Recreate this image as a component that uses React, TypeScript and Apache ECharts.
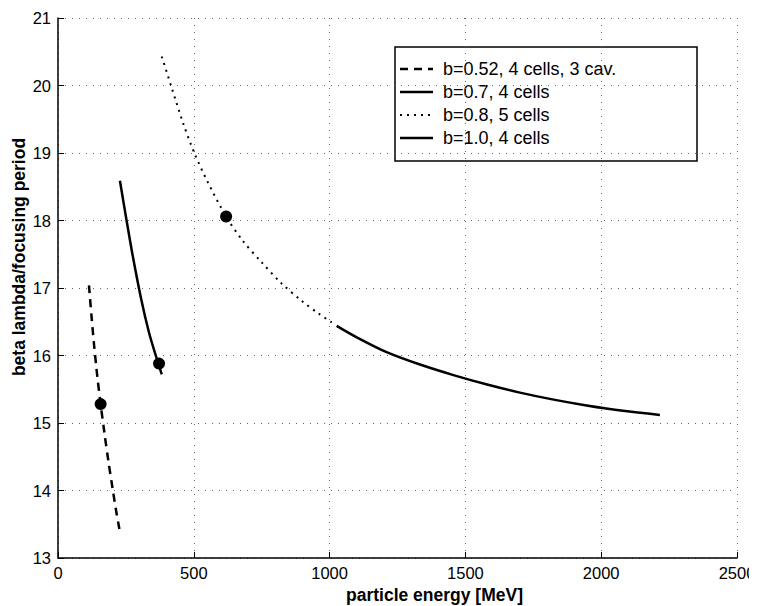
import React, { useEffect, useRef } from "react";
import * as echarts from "echarts";

const seriesNames = ["b=0.52, 4 cells, 3 cav.", "b=0.7, 4 cells", "b=0.8, 5 cells", "b=1.0, 4 cells"];
const xTitle = "particle energy [MeV]";
const yTitle = "beta lambda/focusing period";

const curveB052: [number, number][] = [
  [114, 17.04], [123, 16.6], [133, 16.15], [145, 15.68], [157, 15.28], [171, 14.85],
  [186, 14.42], [201, 14.03], [214, 13.7], [226, 13.43],
];
const curveB07: [number, number][] = [
  [228, 18.59], [250, 18.06], [275, 17.48], [305, 16.86], [335, 16.34], [360, 16.0], [382, 15.72],
];
const curveB08: [number, number][] = [
  [382, 20.43], [420, 19.95], [460, 19.45], [500, 19.02], [550, 18.58], [619, 18.06],
  [680, 17.7], [750, 17.38], [820, 17.08], [900, 16.8], [960, 16.62], [1008, 16.49],
];
const curveB10: [number, number][] = [
  [1026, 16.44], [1100, 16.27], [1210, 16.05], [1330, 15.87], [1456, 15.71], [1580, 15.57],
  [1701, 15.45], [1820, 15.35], [1946, 15.26], [2080, 15.18], [2216, 15.12],
];
const markerPoints: [number, number][] = [[157, 15.28], [372, 15.88], [619, 18.06]];

const lineTypes: (number[] | string)[] = [[8, 6], "solid", [2, 5], "solid"];
const lineWidths = [2.5, 2.5, 2, 2.5];

const FONT = "Liberation Sans, Arial, Helvetica, sans-serif";

export default function App() {
  const ref = useRef<HTMLDivElement>(null);
  useEffect(() => {
    if (!ref.current) return;
    const chart = echarts.init(ref.current, undefined, { renderer: "svg" });
    const lineBase = { type: "line", showSymbol: false, symbol: "none", smooth: 0.3, z: 3 };
    const curves = [curveB052, curveB07, curveB08, curveB10];

    const legendX = 395, legendY = 47, legendW = 302, legendH = 114;
    const rowY = [69, 92, 115, 138];
    const legendChildren: any[] = [
      { type: "rect", shape: { x: legendX, y: legendY, width: legendW, height: legendH },
        style: { fill: "#fff", stroke: "#000", lineWidth: 1.5 } },
    ];
    seriesNames.forEach((name, i) => {
      legendChildren.push({
        type: "line",
        shape: { x1: 400, y1: rowY[i], x2: 433, y2: rowY[i] },
        style: { stroke: "#000", lineWidth: lineWidths[i], lineDash: lineTypes[i] === "solid" ? null : lineTypes[i] },
      });
      legendChildren.push({
        type: "text", x: 443, y: rowY[i],
        style: { text: name, fill: "#000", font: `18px ${FONT}`, verticalAlign: "middle", align: "left" },
      });
    });

    chart.setOption({
      animation: false,
      backgroundColor: "#fff",
      textStyle: { fontFamily: FONT },
      grid: { left: 58, right: 20, top: 18, bottom: 48, outerBoundsMode: "none", containLabel: false },
      graphic: [
        { type: "group", z: 100, children: legendChildren },
        {
          type: "text", x: 19, y: 257, rotation: Math.PI / 2, z: 100,
          style: { text: yTitle, fill: "#000", font: `bold 17.5px ${FONT}`, align: "center", verticalAlign: "middle" },
        },
      ],
      xAxis: {
        type: "value",
        min: 0,
        max: 2500,
        interval: 500,
        name: xTitle,
        nameLocation: "middle",
        nameGap: 26,
        nameTextStyle: { fontSize: 17.5, fontWeight: "bold", color: "#000", padding: [0, 0, 0, 74] },
        axisLine: { lineStyle: { color: "#000", width: 1.5 } },
        axisTick: { inside: true, length: 6, lineStyle: { color: "#000" } },
        axisLabel: { fontSize: 16.5, color: "#000", margin: 6, formatter: (v: number) => String(v) },
        splitLine: { show: true, lineStyle: { color: "#666", type: [1, 6], width: 1 } },
      },
      yAxis: {
        type: "value",
        min: 13,
        max: 21,
        interval: 1,
        axisLine: { show: true, lineStyle: { color: "#000", width: 1.5 } },
        axisTick: { show: true, inside: true, length: 6, lineStyle: { color: "#000" } },
        axisLabel: { fontSize: 16.5, color: "#000", margin: 7, formatter: (v: number) => String(v) },
        splitLine: { show: true, lineStyle: { color: "#666", type: [1, 6], width: 1 } },
      },
      series: [
        ...curves.map((c, i) => ({
          ...lineBase, name: seriesNames[i], data: c, color: "#000",
          lineStyle: { color: "#000", width: lineWidths[i], type: lineTypes[i] },
        })),
        { type: "scatter", name: "markers", data: markerPoints, symbol: "circle", symbolSize: 12,
          itemStyle: { color: "#000", opacity: 1 }, z: 4 },
      ],
    });
    return () => chart.dispose();
  }, []);
  return <div ref={ref} style={{ width: 757, height: 606, marginLeft: -8, marginTop: -8 }} />;
}
